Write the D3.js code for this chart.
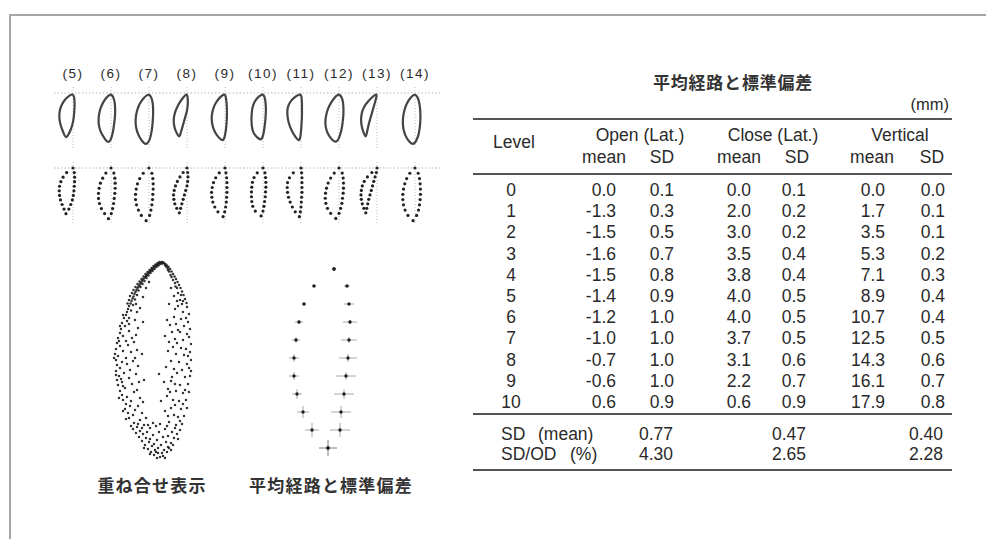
<!DOCTYPE html>
<html><head><meta charset="utf-8">
<script src="https://cdn.jsdelivr.net/npm/d3@7"></script>
<style>
html,body{margin:0;padding:0;background:#fff;}
svg{display:block;}
text{font-family:"Liberation Sans",Arial,"Noto Sans CJK JP",sans-serif;fill:#2a2a2a;}
text.jp{font-family:"Noto Sans CJK JP","Noto Sans CJK SC",sans-serif;font-weight:700;fill:#333;}
</style></head><body>
<svg id="fig" width="986" height="539"></svg>
<script>
// ---------- table: mean path and standard deviation (mm) ----------
const levels    = [0, 1, 2, 3, 4, 5, 6, 7, 8, 9, 10];
const openMean  = [0.0, -1.3, -1.5, -1.6, -1.5, -1.4, -1.2, -1.0, -0.7, -0.6, 0.6];
const openSD    = [0.1, 0.3, 0.5, 0.7, 0.8, 0.9, 1.0, 1.0, 1.0, 1.0, 0.9];
const closeMean = [0.0, 2.0, 3.0, 3.5, 3.8, 4.0, 4.0, 3.7, 3.1, 2.2, 0.6];
const closeSD   = [0.1, 0.2, 0.2, 0.4, 0.4, 0.5, 0.5, 0.5, 0.6, 0.7, 0.9];
const vertMean  = [0.0, 1.7, 3.5, 5.3, 7.1, 8.9, 10.7, 12.5, 14.3, 16.1, 17.9];
const vertSD    = [0.0, 0.1, 0.1, 0.2, 0.3, 0.4, 0.4, 0.5, 0.6, 0.7, 0.8];
const summaryNames = [["SD", "(mean)"], ["SD/OD", "(%)"]];
const summaryOpen  = [0.77, 4.30];
const summaryClose = [0.47, 2.65];
const summaryVert  = [0.40, 2.28];

// ---------- individual subjects: lateral position (mm) at levels 0..10 ----------
const subjectLabels = ["(5)", "(6)", "(7)", "(8)", "(9)", "(10)", "(11)", "(12)", "(13)", "(14)"];
const subjectDepth  = [16.3, 18.1, 18.8, 16.0, 17.4, 17.1, 17.4, 18.0, 16.0, 18.8];
const subjectClose = [
  [0, 2.0, 3.1, 3.8, 4.2, 4.3, 4.2, 3.9, 3.4, 2.8, 2.2],
  [0, 1.6, 2.6, 3.3, 3.7, 3.9, 3.9, 3.6, 3.0, 2.0, 0.8],
  [0, 1.8, 2.9, 3.6, 4.0, 4.2, 4.2, 3.9, 3.3, 2.4, 0.9],
  [0, 1.2, 2.2, 3.0, 3.6, 4.0, 4.2, 4.1, 3.8, 3.2, 2.4],
  [0, 1.8, 2.9, 3.6, 4.0, 4.2, 4.1, 3.8, 3.2, 2.2, 0.6],
  [0, 1.8, 2.8, 3.3, 3.5, 3.6, 3.6, 3.5, 3.2, 2.4, 0.6],
  [0, 2.4, 3.6, 4.2, 4.3, 4.2, 3.9, 3.4, 2.7, 1.8, 0.5],
  [0, 1.5, 2.6, 3.4, 3.9, 4.2, 4.3, 4.1, 3.6, 2.6, 1.0],
  [0, 1.6, 3.0, 4.0, 4.6, 4.9, 5.0, 4.9, 4.6, 4.1, 3.5],
  [0, 1.6, 2.6, 3.2, 3.6, 3.8, 3.8, 3.6, 3.1, 2.2, 0.6]
];
const subjectOpen = [
  [0, -0.4, -0.5, -0.5, -0.4, -0.3, -0.1, 0.2, 0.7, 1.3, 2.2],
  [0, -0.9, -1.2, -1.3, -1.3, -1.2, -1.0, -0.8, -0.5, -0.1, 0.8],
  [0, -0.9, -1.2, -1.3, -1.3, -1.2, -1.1, -0.9, -0.6, -0.2, 0.9],
  [0, -0.2, -0.3, -0.2, 0.0, 0.4, 0.8, 1.2, 1.6, 2.0, 2.4],
  [0, -0.3, -0.5, -0.6, -0.6, -0.6, -0.5, -0.4, -0.2, 0.1, 0.6],
  [0, -0.6, -0.8, -0.9, -0.9, -0.8, -0.7, -0.5, -0.3, 0.0, 0.6],
  [0, -0.2, -0.3, -0.3, -0.3, -0.3, -0.2, -0.1, 0.0, 0.2, 0.5],
  [0, -1.0, -1.3, -1.4, -1.4, -1.3, -1.1, -0.9, -0.5, 0.0, 1.0],
  [0, 0.2, 0.6, 1.0, 1.4, 1.8, 2.2, 2.6, 2.9, 3.2, 3.5],
  [0, -1.0, -1.4, -1.6, -1.7, -1.7, -1.6, -1.4, -1.1, -0.5, 0.6]
];

// ---------- superimposed samples of all subjects: [lateral mm, vertical mm] ----------
const overlayPoints = [
  // converging upper close-side edge
  [0.0,0.0],[0.1,0.05],[-0.1,0.05],[0.2,0.1],[0.3,0.15],[0.15,0.2],[0.4,0.2],[0.5,0.3],[0.35,0.35],[0.6,0.35],
  [0.7,0.45],[0.55,0.5],[0.8,0.55],[0.9,0.65],[0.75,0.7],[1.0,0.75],[1.1,0.85],[0.95,0.9],[1.2,0.95],[1.3,1.05],
  [1.15,1.1],[1.4,1.15],[1.5,1.3],[1.35,1.35],[1.6,1.4],[1.7,1.55],[1.55,1.6],[1.85,1.7],[1.95,1.85],[1.75,1.9],
  [2.05,2.0],[2.15,2.15],[1.95,2.2],[2.25,2.3],[2.35,2.45],[2.15,2.5],[2.45,2.6],[2.55,2.8],[2.35,2.85],[2.65,3.0],
  [2.75,3.2],[2.5,3.3],[2.85,3.45],[2.95,3.65],[2.7,3.75],[3.05,3.9],[3.15,4.15],[2.9,4.3],[3.3,4.4],[3.4,4.7],
  [3.1,4.85],[3.5,5.0],[3.6,5.3],
  [0.25,0.0],[-0.05,0.15],[0.45,0.1],[0.65,0.25],[0.85,0.4],[1.05,0.6],[1.25,0.8],[1.45,1.0],[1.65,1.2],[1.85,1.45],
  [2.05,1.7],[2.25,1.95],[2.45,2.2],[2.65,2.5],[2.85,2.8],[3.0,3.1],[3.2,3.4],[3.3,3.8],[3.45,4.15],
  [1.9,3.5],[2.2,4.6],[1.6,2.6],[1.3,2.0],
  // upper open-side edge
  [-0.2,0.1],[-0.35,0.2],[-0.5,0.35],[-0.4,0.45],[-0.65,0.5],[-0.8,0.7],[-0.6,0.8],[-0.95,0.95],[-1.1,1.2],[-0.85,1.3],
  [-1.25,1.45],[-1.4,1.7],[-1.1,1.8],[-1.55,2.0],[-1.7,2.3],[-1.35,2.45],[-1.85,2.6],[-2.0,2.95],[-1.6,3.1],[-2.15,3.3],
  [-2.3,3.7],[-1.8,3.8],[-2.45,4.1],
  [-0.3,0.3],[-0.55,0.6],[-0.7,0.95],[-0.95,1.5],[-1.3,2.1],[-1.5,2.6],[-1.9,3.3],[-2.1,3.9],[-1.2,3.4],[-0.9,2.6],[-0.7,4.2],
  // outer close-side band
  [3.8,5.6],[3.5,5.9],[4.0,6.1],[3.7,6.4],[4.1,6.7],[3.3,6.9],[4.2,7.1],[3.9,7.4],[4.4,7.6],[3.6,7.9],
  [4.5,8.1],[4.2,8.4],[4.6,8.7],[3.9,8.9],[4.7,9.2],[4.4,9.4],[4.6,9.8],[4.0,10.0],[4.5,10.3],[4.2,10.6],
  [4.6,10.9],[3.8,11.1],[4.3,11.4],[4.5,11.8],[4.0,12.0],[4.4,12.3],[3.7,12.6],[4.2,12.9],[4.0,13.3],[3.5,13.5],
  [3.9,13.8],[3.6,14.2],[3.2,14.4],[3.7,14.7],[3.4,15.1],[2.9,15.3],[3.3,15.6],
  [4.3,7.9],[4.8,9.6],[4.1,11.7],[4.6,11.3],[3.9,12.4],[4.3,13.6],[3.9,14.9],[3.6,15.7],[3.1,16.4],[4.2,6.4],
  [3.9,5.3],[3.3,5.6],
  [3.3,6.2],[3.0,7.6],[3.4,8.3],[2.9,9.9],[3.5,10.2],[3.3,11.6],[2.8,13.0],[3.1,13.9],[2.7,14.8],[3.6,9.6],
  // inner close-side column
  [2.6,4.2],[2.5,5.0],[2.7,5.8],[2.4,6.6],[2.6,7.3],[2.8,8.0],[2.5,8.8],[2.7,9.6],[2.4,10.4],[2.6,11.2],
  [2.3,12.0],[2.5,12.8],[2.2,13.6],[2.4,14.4],[2.0,15.1],[2.2,15.8],[3.1,9.0],[3.2,10.8],[3.0,12.2],
  [1.9,6.0],[2.0,9.2],[1.8,11.8],[1.9,14.0],[1.6,15.6],
  // open side
  [-2.5,4.5],[-2.7,5.2],[-2.6,6.0],[-2.8,6.7],[-2.7,7.5],[-2.9,8.2],[-2.8,9.0],[-2.9,9.8],[-2.7,10.6],[-2.8,11.4],
  [-2.6,12.2],[-2.7,13.0],[-2.4,13.8],[-2.5,14.6],[-2.2,15.4],[-2.0,16.2],
  [-2.0,4.2],[-2.1,5.0],[-1.9,5.7],[-2.2,6.4],[-1.8,7.0],[-2.1,7.8],[-1.9,8.6],[-2.2,9.3],[-1.7,10.0],[-2.0,10.8],
  [-2.3,11.5],[-1.8,12.3],[-2.1,13.1],[-1.7,13.9],[-1.9,14.7],[-1.6,15.5],[-1.4,16.3],
  [-1.5,3.9],[-1.3,4.7],[-1.2,5.5],[-1.4,6.2],[-1.0,7.0],[-1.3,7.7],[-1.1,8.5],[-1.4,9.2],[-0.9,9.9],[-1.2,10.7],
  [-1.0,11.5],[-1.3,12.2],[-0.8,13.0],[-1.1,13.8],[-0.9,14.6],[-1.2,15.3],[-0.7,16.0],
  [-0.5,5.8],[-0.3,7.4],[-0.6,8.9],[-0.4,10.5],[-0.2,12.0],[-0.5,13.4],[-0.3,14.9],[0.3,11.2],[0.1,13.9],
  [-2.4,5.6],[-2.5,7.2],[-2.4,8.7],[-2.5,10.2],[-2.3,12.8],[-2.1,14.2],[-1.8,15.9],[-1.6,4.4],[-1.6,6.8],[-1.5,8.1],
  [-1.5,11.1],[-1.4,12.9],[-1.3,14.3],[-0.8,6.3],[-0.7,8.0],[-0.9,11.9],[-0.6,12.7],[-0.6,15.4],[-2.9,10.9],[-2.6,9.4],
  // lower turning region
  [2.8,16.1],[2.5,16.5],[2.9,16.7],[2.2,16.9],[2.6,17.1],[1.9,17.2],[2.3,17.5],[1.6,17.6],[2.0,17.9],[1.3,18.0],
  [1.7,18.3],[1.0,18.4],[1.4,18.7],[0.7,18.8],[1.1,19.0],[0.4,19.1],[0.8,19.3],[0.2,19.5],[0.5,19.6],[-0.1,19.4],
  [1.8,16.3],[1.2,16.6],[0.6,16.4],[1.5,17.0],[0.9,17.3],[0.3,17.0],[1.2,17.7],[0.5,17.8],[-0.1,17.5],[0.8,18.2],
  [0.1,18.3],[-0.4,18.0],[0.4,18.6],[-0.2,18.8],[-0.6,18.5],[0.0,19.1],[-0.5,19.0],
  [-1.8,16.8],[-1.5,17.2],[-1.2,17.6],[-0.9,18.1],[-0.7,18.6],[-1.0,17.0],[-0.6,17.4],[-1.3,16.6],[-0.3,16.7],
  [2.0,16.6],[1.4,16.3],[0.9,16.1],[1.8,18.6],[1.2,19.2],[0.6,19.0],[-0.3,19.6],[-0.9,18.8],[-1.1,18.3],[-1.6,17.7],
  [2.4,16.2],[0.2,16.2],[-0.5,16.4]
];

const svg = d3.select("#fig");

// ---------- page frame ----------
svg.append("line").attr("x1", 9).attr("x2", 986).attr("y1", 15).attr("y2", 15)
  .attr("stroke", "#aaa4a4").attr("stroke-width", 2);
svg.append("line").attr("x1", 10).attr("x2", 10).attr("y1", 14).attr("y2", 539)
  .attr("stroke", "#aaa4a4").attr("stroke-width", 2);

// ---------- individual trajectories ----------
const subjX = d3.scalePoint().domain(subjectLabels).range([73, 415]);
const latPx = 3.2, vertPx = 2.8;         // small panels: px per mm
const lineTop = 93, dotTop = 168;

function loopPoints(i, top) {
  const ax = subjX(subjectLabels[i]);
  const lx = d3.scaleLinear().domain([0, 1]).range([ax, ax - latPx]);
  const vy = d3.scaleLinear().domain([0, 1]).range([top, top + vertPx]);
  const step = subjectDepth[i] / 10;
  const pts = [];
  levels.forEach(l => pts.push([lx(subjectClose[i][l]), vy(step * l)]));
  levels.slice(1, 10).reverse().forEach(l => pts.push([lx(subjectOpen[i][l]), vy(step * l)]));
  return pts;
}

// reference lines
[lineTop, dotTop].forEach(t => {
  svg.append("line").attr("x1", 54).attr("x2", 440).attr("y1", t).attr("y2", t)
    .attr("stroke", "#b5b5b5").attr("stroke-width", 1).attr("stroke-dasharray", "1.5,2");
});
const axesG = svg.append("g");
subjectLabels.forEach((s, i) => {
  const ax = subjX(s);
  [lineTop, dotTop].forEach(t => {
    axesG.append("line").attr("x1", ax).attr("x2", ax).attr("y1", t - 6).attr("y2", t + 55)
      .attr("stroke", "#bdbdbd").attr("stroke-width", 1).attr("stroke-dasharray", "1,2");
  });
});

svg.append("g").selectAll("text").data(subjectLabels).join("text")
  .attr("x", d => subjX(d)).attr("y", 78).attr("text-anchor", "middle")
  .attr("font-size", 13.5).attr("letter-spacing", 1.5).attr("fill", "#333").text(d => d);

const loopLine = d3.line().curve(d3.curveBasisClosed);
svg.append("g").selectAll("path").data(subjectLabels).join("path")
  .attr("d", (d, i) => loopLine(loopPoints(i, lineTop)))
  .attr("fill", "none").attr("stroke", "#444").attr("stroke-width", 2.2);

const dotG = svg.append("g");
subjectLabels.forEach((s, i) => {
  dotG.selectAll(null).data(loopPoints(i, dotTop)).join("circle")
    .attr("cx", d => d[0]).attr("cy", d => d[1]).attr("r", 1.6).attr("fill", "#222");
});

// ---------- superimposed samples ----------
const ox = d3.scaleLinear().domain([-3, 5]).range([192, 112]);
const oy = d3.scaleLinear().domain([0, 20]).range([262, 462]);
svg.append("g").selectAll("circle").data(overlayPoints).join("circle")
  .attr("cx", d => ox(d[0])).attr("cy", d => oy(d[1])).attr("r", 1.25)
  .attr("fill", "#1e1e1e").attr("fill-opacity", 0.9);

// ---------- mean path with SD bars ----------
const mx = d3.scaleLinear().domain([-2, 5]).range([354, 284]);
const my = d3.scaleLinear().domain([0, 18]).range([269, 449]);
const meanPts = [];
levels.forEach(l => {
  meanPts.push({lat: closeMean[l], sd: closeSD[l], v: vertMean[l], vsd: vertSD[l]});
  meanPts.push({lat: openMean[l], sd: openSD[l], v: vertMean[l], vsd: vertSD[l]});
});
const barG = svg.append("g").attr("stroke", "#a8a8a8").attr("stroke-width", 1);
barG.selectAll("line.h").data(meanPts).join("line").attr("class", "h")
  .attr("x1", d => mx(d.lat - d.sd)).attr("x2", d => mx(d.lat + d.sd))
  .attr("y1", d => my(d.v)).attr("y2", d => my(d.v));
barG.selectAll("line.v").data(meanPts).join("line").attr("class", "v")
  .attr("x1", d => mx(d.lat)).attr("x2", d => mx(d.lat))
  .attr("y1", d => my(d.v - d.vsd)).attr("y2", d => my(d.v + d.vsd));
svg.append("g").selectAll("circle").data(meanPts).join("circle")
  .attr("cx", d => mx(d.lat)).attr("cy", d => my(d.v)).attr("r", 1.7).attr("fill", "#1e1e1e");

// captions
svg.append("text").attr("class", "jp").attr("x", 152).attr("y", 492).attr("text-anchor", "middle")
  .attr("font-size", 17).attr("letter-spacing", 1.2).text("重ね合せ表示");
svg.append("text").attr("class", "jp").attr("x", 331).attr("y", 492).attr("text-anchor", "middle")
  .attr("font-size", 17).attr("letter-spacing", 1.2).text("平均経路と標準偏差");

// ---------- table ----------
const tG = svg.append("g");
tG.append("text").attr("class", "jp").attr("x", 733).attr("y", 89).attr("text-anchor", "middle")
  .attr("font-size", 17).attr("letter-spacing", 0.8).text("平均経路と標準偏差");
tG.append("text").attr("x", 949).attr("y", 110).attr("text-anchor", "end")
  .attr("font-size", 16.5).text("(mm)");

const ruleX1 = 473, ruleX2 = 952;
[119, 174, 414, 470].forEach(y => {
  tG.append("line").attr("x1", ruleX1).attr("x2", ruleX2).attr("y1", y).attr("y2", y)
    .attr("stroke", "#555").attr("stroke-width", 2.2);
});

const fs = 17.5;
tG.append("text").attr("x", 514).attr("y", 148).attr("text-anchor", "middle").attr("font-size", fs).text("Level");
const groups = [["Open (Lat.)", 640], ["Close (Lat.)", 773], ["Vertical", 900]];
groups.forEach(g => tG.append("text").attr("x", g[1]).attr("y", 141).attr("text-anchor", "middle")
  .attr("font-size", fs).text(g[0]));
const cols = [
  {vals: openMean,  right: 616, head: "mean", hx: 604},
  {vals: openSD,    right: 674, head: "SD",   hx: 662},
  {vals: closeMean, right: 751, head: "mean", hx: 739},
  {vals: closeSD,   right: 806, head: "SD",   hx: 797},
  {vals: vertMean,  right: 885, head: "mean", hx: 872},
  {vals: vertSD,    right: 945, head: "SD",   hx: 932}
];
cols.forEach(c => tG.append("text").attr("x", c.hx).attr("y", 163).attr("text-anchor", "middle")
  .attr("font-size", fs).text(c.head));

const rowY = d3.scaleLinear().domain([0, 10]).range([196, 408]);
tG.append("g").selectAll("text").data(levels).join("text")
  .attr("x", 511).attr("y", d => rowY(d)).attr("text-anchor", "middle").attr("font-size", fs).text(d => d);
cols.forEach(c => {
  tG.append("g").selectAll("text").data(levels).join("text")
    .attr("x", c.right).attr("y", d => rowY(d)).attr("text-anchor", "end").attr("font-size", fs)
    .text(d => c.vals[d].toFixed(1));
});

const sumY = [440, 460];
summaryNames.forEach((n, i) => {
  tG.append("text").attr("x", 501).attr("y", sumY[i]).attr("font-size", fs).text(n[0]);
  tG.append("text").attr("x", i === 0 ? 538 : 570).attr("y", sumY[i]).attr("font-size", fs).text(n[1]);
});
[[summaryOpen, 673], [summaryClose, 806], [summaryVert, 943]].forEach(([vals, x]) => {
  vals.forEach((v, i) => tG.append("text").attr("x", x).attr("y", sumY[i]).attr("text-anchor", "end")
    .attr("font-size", fs).text(v.toFixed(2)));
});
</script>
</body></html>
